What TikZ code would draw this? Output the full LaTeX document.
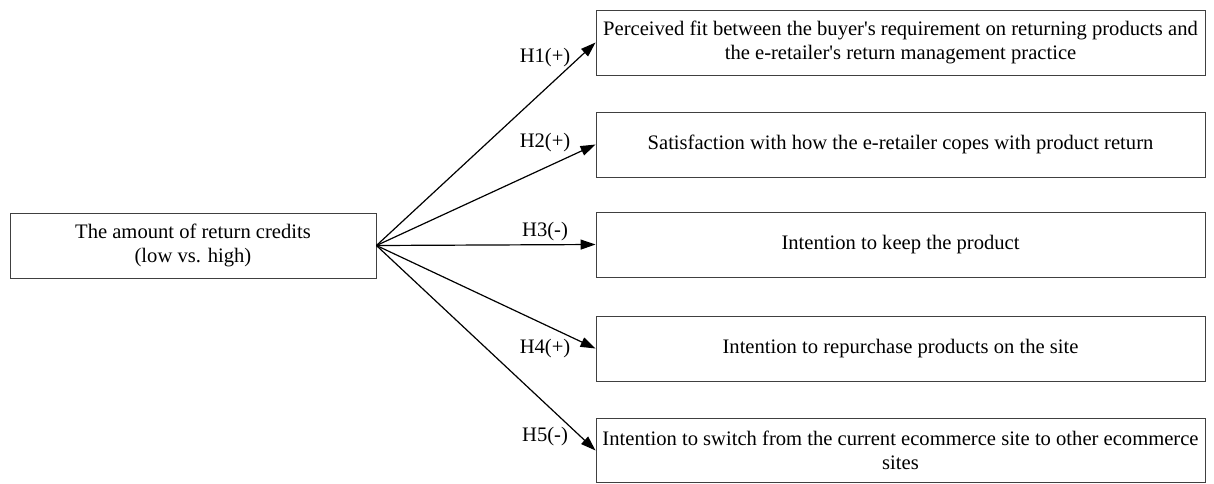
\documentclass[tikz,border=0pt]{standalone}
\usepackage{fontspec}
\setmainfont{Liberation Serif}
\usetikzlibrary{arrows.meta}
\begin{document}
\begin{tikzpicture}[x=1pt,y=-1pt,
  txt/.style={font=\fontsize{20.6}{24}\selectfont},
  box/.style={txt, draw=black!75, line width=0.9pt, inner sep=0pt, align=center},
  rbox/.style={box, minimum width=609pt, minimum height=65pt},
  arr/.style={line width=1.2pt, -{Triangle[length=15pt,width=10pt]}},
  lab/.style={txt, inner sep=0pt}]
\useasboundingbox (0,0) rectangle (1214,483);
\node[box, minimum width=366pt, minimum height=65pt] (src) at (193,245.5) {The amount of return credits\\(low vs. high)};
\node[rbox] (b1) at (900.5,42.5) {Perceived fit between the buyer\textquotesingle s requirement on returning products and\\the e-retailer\textquotesingle s return management practice};
\node[rbox] (b2) at (900.5,144.5) {Satisfaction with how the e-retailer copes with product return};
\node[rbox] (b3) at (900.5,244.5) {Intention to keep the product};
\node[rbox] (b4) at (900.5,348.5) {Intention to repurchase products on the site};
\node[rbox, minimum height=64pt] (b5) at (900.5,450.5) {Intention to switch from the current ecommerce site to other ecommerce\\sites};
\foreach \i in {1,...,5} \draw[arr] (src.east) -- (b\i.west);
\node[lab] (l1) at (545,58) {H1(+)};
\node[lab] (l2) at (545,143) {H2(+)};
\node[lab] (l3) at (545,232) {H3(-)};
\node[lab] (l4) at (545,349) {H4(+)};
\node[lab] (l5) at (545,437) {H5(-)};
\end{tikzpicture}
\end{document}
